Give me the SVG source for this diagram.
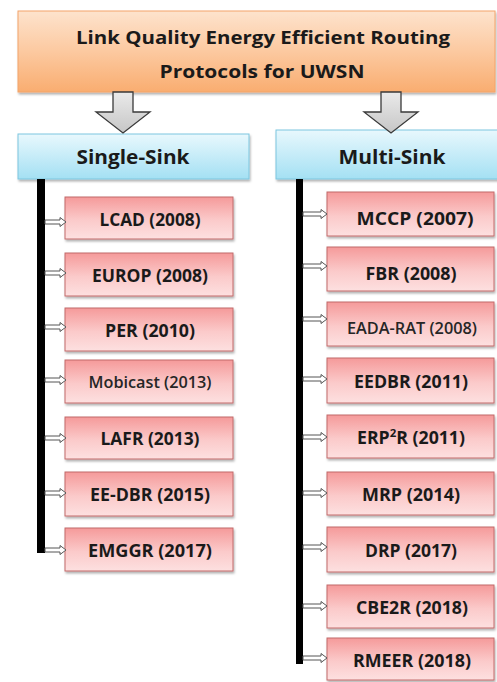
<svg xmlns="http://www.w3.org/2000/svg" width="497" height="682" viewBox="0 0 497 682">
<defs>
<linearGradient id="gOr" x1="0" y1="0" x2="0" y2="1"><stop offset="0" stop-color="#fde3cd"/><stop offset="0.5" stop-color="#fcc9a0"/><stop offset="1" stop-color="#f9ad70"/></linearGradient>
<linearGradient id="gBl" x1="0" y1="0" x2="0" y2="1"><stop offset="0" stop-color="#e8f8fd"/><stop offset="1" stop-color="#a4e0f3"/></linearGradient>
<linearGradient id="gRd" x1="0" y1="0" x2="0" y2="1"><stop offset="0" stop-color="#f59a9a"/><stop offset="0.55" stop-color="#fbcaca"/><stop offset="1" stop-color="#fde0e0"/></linearGradient>
<linearGradient id="gGr" x1="0" y1="0" x2="0" y2="1"><stop offset="0" stop-color="#eaeaea"/><stop offset="1" stop-color="#c6c6c6"/></linearGradient>
<filter id="sh" x="-10%" y="-10%" width="120%" height="140%"><feDropShadow dx="1" dy="2" stdDeviation="1.2" flood-color="#000" flood-opacity="0.3"/></filter>
</defs>
<style>
text{font-family:"Open Sans",Lato,"Liberation Sans",sans-serif;font-weight:bold;fill:#1a1a1a;text-anchor:middle}
.top{fill:url(#gOr);stroke:#f3a46a;stroke-width:1;filter:url(#sh)}
.hdr{fill:url(#gBl);stroke:#7cc6df;stroke-width:1;filter:url(#sh)}
.box{fill:url(#gRd);stroke:#c26a6a;stroke-width:1;filter:url(#sh)}
.big{fill:url(#gGr);stroke:#3a3a3a;stroke-width:1.3}
.sa{fill:#fff;stroke:#555;stroke-width:1}
.bar{fill:#000}
.t18{font-size:18px}
.t19{font-size:19px}
.t17{font-size:17px}
.t15{font-size:16px;font-weight:600;fill:#262626}
</style>
<g id="root"><rect class="top" x="18" y="11" width="477" height="81"/>
<text class="t18" x="263" y="44" textLength="374" lengthAdjust="spacingAndGlyphs">Link Quality Energy Efficient Routing</text>
<text class="t18" x="262" y="78" textLength="205" lengthAdjust="spacingAndGlyphs">Protocols for UWSN</text></g>
<g id="single"><rect class="hdr" x="18" y="134" width="231" height="45"/><text class="t19" x="133" y="164" textLength="113" lengthAdjust="spacingAndGlyphs">Single-Sink</text></g>
<g id="multi"><rect class="hdr" x="276" y="130" width="225" height="49"/><text class="t19" x="392" y="164" textLength="107" lengthAdjust="spacingAndGlyphs">Multi-Sink</text></g>
<g id="lcad"><rect class="box" x="65" y="197" width="168" height="42"/><text class="t17" x="150" y="226" textLength="101" lengthAdjust="spacingAndGlyphs">LCAD (2008)</text></g>
<g id="europ"><rect class="box" x="65" y="253" width="168" height="43"/><text class="t17" x="150" y="282" textLength="116" lengthAdjust="spacingAndGlyphs">EUROP (2008)</text></g>
<g id="per"><rect class="box" x="65" y="308" width="168" height="43"/><text class="t17" x="150" y="337" textLength="90" lengthAdjust="spacingAndGlyphs">PER (2010)</text></g>
<g id="mobicast"><rect class="box" x="65" y="360" width="168" height="43"/><text class="t15" x="150" y="388" textLength="123" lengthAdjust="spacingAndGlyphs">Mobicast (2013)</text></g>
<g id="lafr"><rect class="box" x="65" y="417" width="168" height="42"/><text class="t17" x="150" y="445" textLength="99" lengthAdjust="spacingAndGlyphs">LAFR (2013)</text></g>
<g id="eedbr1"><rect class="box" x="65" y="472" width="168" height="44"/><text class="t17" x="150" y="501" textLength="120" lengthAdjust="spacingAndGlyphs">EE-DBR (2015)</text></g>
<g id="emggr"><rect class="box" x="65" y="528" width="168" height="43"/><text class="t17" x="150" y="557" textLength="124" lengthAdjust="spacingAndGlyphs">EMGGR (2017)</text></g>
<g id="mccp"><rect class="box" x="327" y="192" width="167" height="44"/><text class="t17" x="415" y="225" textLength="117" lengthAdjust="spacingAndGlyphs">MCCP (2007)</text></g>
<g id="fbr"><rect class="box" x="327" y="247" width="167" height="44"/><text class="t17" x="411" y="280" textLength="91" lengthAdjust="spacingAndGlyphs">FBR (2008)</text></g>
<g id="eada"><rect class="box" x="327" y="302" width="167" height="44"/><text class="t15" x="412" y="334" textLength="130" lengthAdjust="spacingAndGlyphs">EADA-RAT (2008)</text></g>
<g id="eedbr2"><rect class="box" x="327" y="358" width="167" height="45"/><text class="t17" x="411" y="388" textLength="114" lengthAdjust="spacingAndGlyphs">EEDBR (2011)</text></g>
<g id="erp2r"><rect class="box" x="327" y="415" width="167" height="43"/><text class="t17" x="411" y="444" textLength="108" lengthAdjust="spacingAndGlyphs">ERP<tspan dy="-7" font-size="11">2</tspan><tspan dy="7">R (2011)</tspan></text></g>
<g id="mrp"><rect class="box" x="327" y="472" width="167" height="43"/><text class="t17" x="411" y="501" textLength="98" lengthAdjust="spacingAndGlyphs">MRP (2014)</text></g>
<g id="drp"><rect class="box" x="327" y="527" width="167" height="45"/><text class="t17" x="411" y="557" textLength="92" lengthAdjust="spacingAndGlyphs">DRP (2017)</text></g>
<g id="cbe2r"><rect class="box" x="327" y="585" width="167" height="43"/><text class="t17" x="412" y="614" textLength="112" lengthAdjust="spacingAndGlyphs">CBE2R (2018)</text></g>
<g id="rmeer"><rect class="box" x="327" y="638" width="167" height="42"/><text class="t17" x="412" y="667" textLength="118" lengthAdjust="spacingAndGlyphs">RMEER (2018)</text></g>
<g id="connectors">
<polygon class="big" points="113,92 133,92 133,112 150,112 123,133 96,112 113,112"/>
<polygon class="big" points="381,92 401,92 401,112 418,112 391,133 364,112 381,112"/>
<rect class="bar" x="37" y="179" width="8" height="374"/>
<rect class="bar" x="296" y="179" width="7" height="485"/>
<polygon class="sa" points="45,220 60,220 60,217.5 66,222 60,226.5 60,224 45,224"/>
<polygon class="sa" points="45,271 60,271 60,268.5 66,273 60,277.5 60,275 45,275"/>
<polygon class="sa" points="45,325 60,325 60,322.5 66,327 60,331.5 60,329 45,329"/>
<polygon class="sa" points="45,378 60,378 60,375.5 66,380 60,384.5 60,382 45,382"/>
<polygon class="sa" points="45,436 60,436 60,433.5 66,438 60,442.5 60,440 45,440"/>
<polygon class="sa" points="45,491 60,491 60,488.5 66,493 60,497.5 60,495 45,495"/>
<polygon class="sa" points="45,548 60,548 60,545.5 66,550 60,554.5 60,552 45,552"/>
<polygon class="sa" points="303,212 321,212 321,209.5 327,214 321,218.5 321,216 303,216"/>
<polygon class="sa" points="303,264 321,264 321,261.5 327,266 321,270.5 321,268 303,268"/>
<polygon class="sa" points="303,317 321,317 321,314.5 327,319 321,323.5 321,321 303,321"/>
<polygon class="sa" points="303,377 321,377 321,374.5 327,379 321,383.5 321,381 303,381"/>
<polygon class="sa" points="303,435 321,435 321,432.5 327,437 321,441.5 321,439 303,439"/>
<polygon class="sa" points="303,491 321,491 321,488.5 327,493 321,497.5 321,495 303,495"/>
<polygon class="sa" points="303,545 321,545 321,542.5 327,547 321,551.5 321,549 303,549"/>
<polygon class="sa" points="303,604 321,604 321,601.5 327,606 321,610.5 321,608 303,608"/>
<polygon class="sa" points="303,656 321,656 321,653.5 327,658 321,662.5 321,660 303,660"/>
</g>
</svg>
